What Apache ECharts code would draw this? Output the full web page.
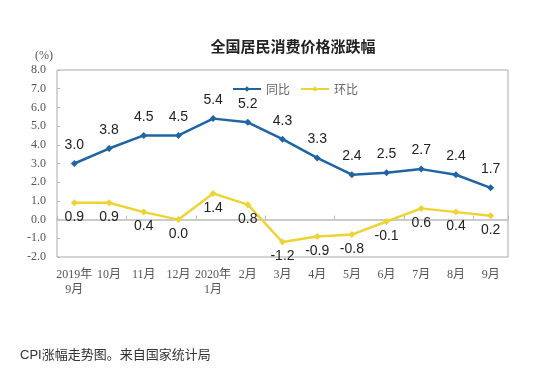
<!DOCTYPE html>
<html>
<head>
<meta charset="utf-8">
<script src="https://cdn.jsdelivr.net/npm/echarts@6/dist/echarts.min.js"></script>
<style>
  html, body { margin: 0; padding: 0; background: #fff; }
  #chart { width: 558px; height: 375px; }
</style>
</head>
<body>
<div id="chart"></div>
<script>
// 月份
const months = ["2019年\n9月", "10月", "11月", "12月", "2020年\n1月", "2月", "3月", "4月", "5月", "6月", "7月", "8月", "9月"];
// 同比
const yoy = [3.0, 3.8, 4.5, 4.5, 5.4, 5.2, 4.3, 3.3, 2.4, 2.5, 2.7, 2.4, 1.7];
// 环比
const mom = [0.9, 0.9, 0.4, 0.0, 1.4, 0.8, -1.2, -0.9, -0.8, -0.1, 0.6, 0.4, 0.2];

const blue = "#1f65a6";
const yellow = "#eed336";
const serif = "'Liberation Serif', 'Noto Sans CJK SC', serif";
const sans = "'Liberation Sans', 'Noto Sans CJK SC', sans-serif";

const chart = echarts.init(document.getElementById("chart"));
chart.setOption({
  animation: false,
  title: [
    {
      text: "全国居民消费价格涨跌幅",
      left: 288,
      top: 34,
      textAlign: "center",
      textStyle: { fontSize: 15, fontWeight: "bold", color: "#222", fontFamily: "'Noto Sans CJK SC', sans-serif" }
    },
    {
      text: "(%)",
      left: 30,
      top: 45,
      textStyle: { fontSize: 12, fontWeight: "normal", color: "#555", fontFamily: serif }
    },
    {
      text: "CPI涨幅走势图。来自国家统计局",
      left: 15,
      top: 344,
      textStyle: { fontSize: 13, fontWeight: "normal", color: "#333", fontFamily: sans }
    }
  ],
  legend: {
    left: 227,
    top: 78,
    itemWidth: 28,
    itemHeight: 7,
    itemGap: 10,
    textStyle: { color: "#666", fontSize: 12, fontFamily: "'Noto Sans CJK SC', sans-serif" },
    data: ["同比", "环比"]
  },
  grid: {
    left: 57,
    right: 50,
    top: 70,
    bottom: 118,
    show: true,
    borderColor: "#aaa",
    borderWidth: 1
  },
  xAxis: [
    {
      type: "category",
      data: months,
      axisLine: { onZero: false, show: false },
      axisTick: { show: false },
      axisLabel: { color: "#555", fontSize: 12, fontFamily: serif, margin: 10, lineHeight: 15, interval: 0 }
    },
    {
      type: "category",
      data: months,
      position: "bottom",
      axisLine: { onZero: true, lineStyle: { color: "#bbb", width: 1.5 } },
      axisTick: { show: true, inside: true, length: 4, lineStyle: { color: "#bbb" } },
      axisLabel: { show: false }
    }
  ],
  yAxis: {
    type: "value",
    min: -2,
    max: 8,
    interval: 1,
    axisLine: { show: false },
    axisTick: { show: true, inside: true, length: 3, lineStyle: { color: "#bbb" } },
    splitLine: { show: false },
    axisLabel: {
      color: "#555",
      fontSize: 12,
      fontFamily: serif,
      margin: 11,
      formatter: v => v.toFixed(1)
    }
  },
  series: [
    {
      name: "同比",
      type: "line",
      data: yoy,
      symbol: "diamond",
      symbolSize: 7,
      itemStyle: { color: blue },
      lineStyle: { color: blue, width: 2.5 },
      label: {
        show: true,
        position: "top",
        distance: 8,
        color: "#222",
        fontSize: 14,
        fontFamily: sans,
        formatter: p => p.value.toFixed(1)
      },
      z: 3
    },
    {
      name: "环比",
      type: "line",
      data: mom,
      symbol: "diamond",
      symbolSize: 7,
      itemStyle: { color: yellow },
      lineStyle: { color: yellow, width: 2.5 },
      label: {
        show: true,
        position: "bottom",
        distance: 4,
        color: "#222",
        fontSize: 14,
        fontFamily: sans,
        formatter: p => p.value.toFixed(1)
      },
      z: 3
    }
  ]
});
</script>
</body>
</html>
